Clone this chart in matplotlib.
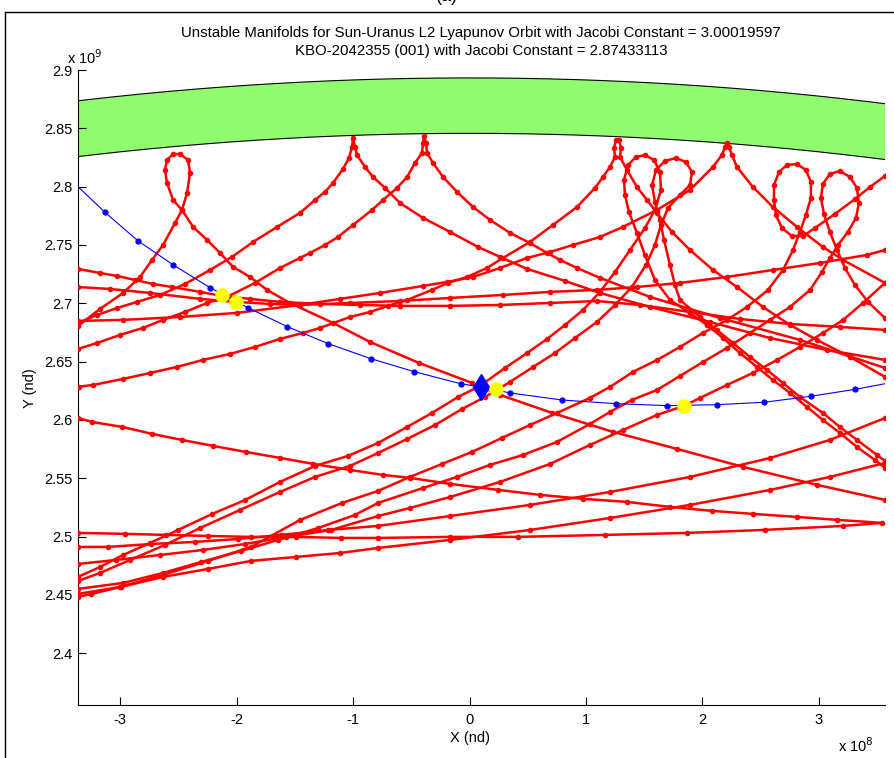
import matplotlib
matplotlib.use("Agg")
import matplotlib.pyplot as plt
import numpy as np
from matplotlib.lines import Line2D

plt.rcParams["font.family"] = ["Liberation Sans", "DejaVu Sans"]

# x in units of 1e8, y in units of 1e9
x_limits = (-3.361, 3.567)
y_limits = (2.3557, 2.9)

# ring band (inner / outer radius, 1e9)
band_r_inner = 2.8457
band_r_outer = 2.8932

# KBO path (blue)
kbo_x = [-3.361, -3.129, -2.848, -2.543, -2.227, -1.904, -1.564, -1.212, -0.848,
         -0.474, -0.076, 0.096, 0.348, 0.797, 1.255, 1.698, 2.124, 2.528, 2.929,
         3.312, 3.567]
kbo_y = [2.8000, 2.7780, 2.7537, 2.7329, 2.7134, 2.6963, 2.6800, 2.6654, 2.6526,
         2.6414, 2.6311, 2.6283, 2.6232, 2.6171, 2.6140, 2.6123, 2.6131, 2.6152,
         2.6203, 2.6263, 2.6311]

start_x, start_y = 0.096, 2.6283
cross_x = [-2.127, -2.007, 0.225, 1.841]
cross_y = [2.7072, 2.7014, 2.6264, 2.6121]

# manifold trajectories (red)
t1_x = [-3.361, -3.172, -2.974, -2.828, -2.725, -2.631, -2.528, -2.468, -2.425,
        -2.399, -2.416, -2.485, -2.545, -2.597, -2.614, -2.597, -2.545, -2.468,
        -2.373, -2.253, -2.142, -2.030, -1.884, -1.738, -1.541, -1.172, -0.854,
        -0.433, 0.021, 0.262, 0.708, 1.232, 1.781, 2.348, 2.983, 3.567]
t1_y = [2.6806, 2.6952, 2.7089, 2.7226, 2.7372, 2.7500, 2.7689, 2.7800, 2.7946,
        2.8117, 2.8229, 2.8280, 2.8280, 2.8229, 2.8143, 2.8032, 2.7886, 2.7800,
        2.7655, 2.7543, 2.7432, 2.7312, 2.7226, 2.7115, 2.7003, 2.6832, 2.6669,
        2.6489, 2.6318, 2.6215, 2.6061, 2.5898, 2.5752, 2.5598, 2.5444, 2.5315]

t2_x = [-3.361, -3.197, -3.026, -2.854, -2.657, -2.442, -2.227, -2.039, -1.858,
        -1.652, -1.455, -1.326, -1.240, -1.172, -1.086, -1.034, -1.009, -1.000,
        -0.983, -0.966, -0.897, -0.828, -0.725, -0.597, -0.399, -0.167, 0.073,
        0.262, 0.494, 0.820, 1.120, 1.549, 2.064, 2.579, 3.069, 3.567]
t2_y = [2.6832, 2.6900, 2.6960, 2.7012, 2.7072, 2.7166, 2.7286, 2.7398, 2.7526,
        2.7655, 2.7775, 2.7886, 2.7955, 2.8032, 2.8152, 2.8246, 2.8340, 2.8417,
        2.8340, 2.8272, 2.8169, 2.8083, 2.7989, 2.7860, 2.7732, 2.7612, 2.7483,
        2.7398, 2.7295, 2.7192, 2.7089, 2.6969, 2.6840, 2.6703, 2.6600, 2.6515]

t3_x = [-3.361, -3.197, -3.000, -2.803, -2.631, -2.442, -2.253, -2.082, -1.841,
        -1.627, -1.455, -1.369, -1.240, -1.129, -1.000, -0.837, -0.742, -0.622,
        -0.536, -0.468, -0.408, -0.399, -0.391, -0.373, -0.365, -0.313, -0.227,
        -0.107, 0.030, 0.176, 0.348, 0.519, 0.665, 0.777, 0.923, 1.120, 1.549,
        2.150, 2.837, 3.567]
t3_y = [2.6609, 2.6660, 2.6729, 2.6789, 2.6858, 2.6926, 2.7003, 2.7055, 2.7175,
        2.7303, 2.7389, 2.7432, 2.7500, 2.7569, 2.7672, 2.7800, 2.7886, 2.7989,
        2.8083, 2.8203, 2.8289, 2.8374, 2.8434, 2.8374, 2.8289, 2.8203, 2.8083,
        2.7955, 2.7826, 2.7715, 2.7603, 2.7517, 2.7432, 2.7372, 2.7303, 2.7218,
        2.7055, 2.6875, 2.6686, 2.6446]

t4_x = [-3.352, -3.232, -2.974, -2.742, -2.511, -2.288, -2.056, -1.841, -1.627,
        -1.429, -1.283, -1.026, -0.854, -0.700, -0.536, -0.322, -0.185, -0.021,
        0.150, 0.288, 0.519, 0.717, 0.923, 1.077, 1.146, 1.206, 1.249, 1.241,
        1.258, 1.283, 1.301, 1.292, 1.352, 1.438, 1.524, 1.609, 1.738, 1.893,
        2.090, 2.296, 2.519, 2.751, 2.983, 3.266, 3.567]
t4_y = [2.6286, 2.6300, 2.6352, 2.6403, 2.6455, 2.6515, 2.6566, 2.6626, 2.6695,
        2.6746, 2.6789, 2.6883, 2.6926, 2.6978, 2.7029, 2.7115, 2.7175, 2.7226,
        2.7303, 2.7389, 2.7526, 2.7672, 2.7826, 2.7989, 2.8083, 2.8169, 2.8255,
        2.8332, 2.8400, 2.8400, 2.8332, 2.8255, 2.8143, 2.7997, 2.7886, 2.7775,
        2.7612, 2.7457, 2.7286, 2.7140, 2.6969, 2.6815, 2.6686, 2.6541, 2.6369]

t5_x = [-3.361, -2.957, -2.605, -2.245, -1.876, -1.489, -1.103, -0.785, -0.167,
        0.416, 1.163, 1.867, 2.536, 3.206, 3.541, 3.155, 2.811, 2.433, 2.082,
        1.721, 1.352, 0.974, 0.605, 0.245, -0.167, -0.511, -0.742, -1.026,
        -1.343, -1.627, -1.918, -2.202, -2.468, -2.725, -2.983, -3.240, -3.361]
t5_y = [2.5032, 2.5024, 2.5015, 2.5006, 2.4998, 2.4998, 2.4989, 2.4989, 2.4998,
        2.4998, 2.5015, 2.5032, 2.5058, 2.5092, 2.5118, 2.5144, 2.5169, 2.5195,
        2.5221, 2.5255, 2.5298, 2.5324, 2.5358, 2.5401, 2.5452, 2.5504, 2.5529,
        2.5572, 2.5624, 2.5675, 2.5726, 2.5778, 2.5829, 2.5881, 2.5941, 2.5983,
        2.6018]

t6_x = [-3.361, -2.974, -2.485, -1.996, -1.455, -1.112, -0.768, -0.399, -0.193,
        0.030, 0.262, 0.494, 0.691, 0.888, 1.120, 1.318, 1.609, 1.893, 2.090,
        2.167, 2.193, 2.210, 2.227, 2.253, 2.296, 2.433, 2.605, 2.811, 3.034,
        3.206, 3.567]
t6_y = [2.6849, 2.6858, 2.6883, 2.6918, 2.6986, 2.7038, 2.7089, 2.7149, 2.7183,
        2.7226, 2.7303, 2.7389, 2.7440, 2.7500, 2.7569, 2.7655, 2.7800, 2.7972,
        2.8169, 2.8272, 2.8340, 2.8374, 2.8340, 2.8272, 2.8169, 2.7997, 2.7826,
        2.7655, 2.7483, 2.7372, 2.7175]

t7_x = [-3.361, -3.172, -3.026, -2.871, -2.717, -2.554, -2.313, -2.124, -1.884,
        -1.627, -1.283, -0.940, -0.597, -0.167, 0.262, 0.691, 1.094, 1.464,
        1.893, 2.322, 2.751, 3.180, 3.567]
t7_y = [2.7295, 2.7260, 2.7235, 2.7200, 2.7166, 2.7140, 2.7098, 2.7063, 2.7038,
        2.7012, 2.6995, 2.6986, 2.6978, 2.6978, 2.6986, 2.7003, 2.7020, 2.6986,
        2.6926, 2.6866, 2.6823, 2.6798, 2.6772]

t8_x = [-3.361, -3.086, -2.742, -2.313, -2.004, -1.712, -1.455, -1.026, -0.597,
        -0.167, 0.288, 0.691, 1.094, 1.438, 1.807, 2.210, 2.605, 3.009, 3.412,
        3.567]
t8_y = [2.7140, 2.7123, 2.7089, 2.7038, 2.7012, 2.6995, 2.6986, 2.7003, 2.7020,
        2.7046, 2.7072, 2.7098, 2.7115, 2.7140, 2.7175, 2.7226, 2.7286, 2.7346,
        2.7415, 2.7457]

t9_x = [-3.361, -3.172, -2.974, -2.742, -2.502, -2.210, -1.927, -1.627, -1.326,
        -1.043, -0.785, -0.536, -0.322, -0.099, 0.090, 0.305, 0.494, 0.665,
        0.820, 0.974, 1.120, 1.249, 1.378, 1.506, 1.592, 1.644, 1.635, 1.584,
        1.506, 1.429, 1.361, 1.326, 1.335, 1.369, 1.438, 1.506, 1.592, 1.721,
        1.893, 2.039, 2.176, 2.322, 2.468, 2.605, 2.751, 2.897, 3.034, 3.180,
        3.326, 3.481, 3.567]
t9_y = [2.4655, 2.4740, 2.4843, 2.4946, 2.5057, 2.5194, 2.5314, 2.5469, 2.5606,
        2.5692, 2.5803, 2.5940, 2.6060, 2.6197, 2.6292, 2.6446, 2.6574, 2.6694,
        2.6814, 2.6943, 2.7097, 2.7269, 2.7457, 2.7646, 2.7800, 2.7972, 2.8126,
        2.8229, 2.8271, 2.8254, 2.8186, 2.8057, 2.7929, 2.7783, 2.7603, 2.7414,
        2.7200, 2.7029, 2.6917, 2.6814, 2.6703, 2.6574, 2.6454, 2.6343, 2.6232,
        2.6112, 2.6000, 2.5889, 2.5769, 2.5657, 2.5589]

t10_x = [-3.361, -3.172, -2.914, -2.614, -2.313, -1.970, -1.627, -1.326, -1.026,
         -0.785, -0.536, -0.296, -0.064, 0.133, 0.348, 0.545, 0.734, 0.906,
         1.094, 1.249, 1.395, 1.515, 1.592, 1.644, 1.704, 1.807, 1.893, 1.910,
         1.858, 1.773, 1.678, 1.601, 1.567, 1.592, 1.635, 1.670, 1.721, 1.764,
         1.807, 1.979, 2.124, 2.262, 2.408, 2.554, 2.691, 2.837, 3.034, 3.180,
         3.326, 3.498, 3.567]
t10_y = [2.4620, 2.4689, 2.4800, 2.4929, 2.5074, 2.5229, 2.5383, 2.5512, 2.5606,
         2.5717, 2.5837, 2.5957, 2.6094, 2.6197, 2.6326, 2.6454, 2.6574, 2.6703,
         2.6840, 2.6986, 2.7140, 2.7329, 2.7500, 2.7672, 2.7817, 2.7929, 2.8014,
         2.8126, 2.8211, 2.8246, 2.8220, 2.8143, 2.8014, 2.7869, 2.7714, 2.7543,
         2.7329, 2.7157, 2.7029, 2.6883, 2.6772, 2.6660, 2.6540, 2.6429, 2.6317,
         2.6197, 2.6060, 2.5940, 2.5829, 2.5700, 2.5649]

t11_x = [-3.361, -3.000, -2.631, -2.245, -1.876, -1.455, -1.094, -0.785, -0.511,
         -0.236, 0.021, 0.279, 0.519, 0.751, 1.034, 1.206, 1.403, 1.609, 1.807,
         2.004, 2.210, 2.382, 2.562, 2.691, 2.777, 2.837, 2.888, 2.931, 2.931,
         2.888, 2.811, 2.725, 2.657, 2.614, 2.614, 2.631, 2.682, 2.768, 2.863,
         2.966, 3.137, 3.309, 3.438, 3.567]
t11_y = [2.4509, 2.4569, 2.4672, 2.4792, 2.4912, 2.5143, 2.5289, 2.5392, 2.5512,
         2.5623, 2.5726, 2.5846, 2.5957, 2.6060, 2.6189, 2.6283, 2.6412, 2.6514,
         2.6626, 2.6746, 2.6857, 2.6969, 2.7114, 2.7286, 2.7457, 2.7612, 2.7757,
         2.7903, 2.8040, 2.8143, 2.8194, 2.8186, 2.8126, 2.8014, 2.7886, 2.7757,
         2.7646, 2.7577, 2.7577, 2.7646, 2.7766, 2.7894, 2.7997, 2.8092]

t12_x = [-3.361, -2.974, -2.631, -2.305, -1.961, -1.644, -1.300, -0.983, -0.785,
         -0.399, -0.107, 0.176, 0.459, 0.751, 1.034, 1.206, 1.395, 1.609, 1.807,
         2.004, 2.210, 2.408, 2.579, 2.751, 2.923, 3.026, 3.094, 3.163, 3.249,
         3.318, 3.343, 3.326, 3.266, 3.180, 3.094, 3.034, 3.017, 3.043, 3.094,
         3.155, 3.223, 3.309, 3.421, 3.567]
t12_y = [2.4552, 2.4603, 2.4689, 2.4783, 2.4877, 2.4972, 2.5074, 2.5186, 2.5289,
         2.5417, 2.5512, 2.5615, 2.5700, 2.5812, 2.5966, 2.6069, 2.6172, 2.6257,
         2.6377, 2.6497, 2.6617, 2.6746, 2.6857, 2.6969, 2.7114, 2.7269, 2.7389,
         2.7500, 2.7612, 2.7732, 2.7860, 2.7989, 2.8083, 2.8134, 2.8109, 2.8023,
         2.7903, 2.7766, 2.7612, 2.7457, 2.7303, 2.7157, 2.7012, 2.6874]

t13_x = [-3.361, -3.034, -2.657, -2.288, -1.927, -1.575, -1.189, -0.785, -0.511,
         -0.167, 0.262, 0.691, 1.034, 1.318, 1.609, 1.841, 1.979, 2.210, 2.433,
         2.639, 2.837, 3.034, 3.206, 3.378, 3.567]
t13_y = [2.4766, 2.4800, 2.4843, 2.4886, 2.4937, 2.4997, 2.5057, 2.5177, 2.5246,
         2.5340, 2.5469, 2.5623, 2.5786, 2.5914, 2.6043, 2.6121, 2.6189, 2.6300,
         2.6403, 2.6514, 2.6626, 2.6746, 2.6857, 2.7003, 2.7175]

t14_x = [-3.361, -3.103, -2.734, -2.356, -1.987, -1.618, -1.215, -0.785, -0.167,
         0.519, 1.206, 1.893, 2.579, 3.094, 3.567]
t14_y = [2.4912, 2.4912, 2.4937, 2.4955, 2.4980, 2.5015, 2.5057, 2.5092, 2.5177,
         2.5272, 2.5383, 2.5512, 2.5674, 2.5829, 2.6017]

t15_x = [-3.361, -3.249, -2.991, -2.631, -2.245, -1.876, -1.489, -1.112, -0.785,
         -0.167, 0.519, 1.206, 1.893, 2.579, 3.094, 3.567]
t15_y = [2.4483, 2.4509, 2.4569, 2.4655, 2.4723, 2.4792, 2.4826, 2.4860, 2.4903,
         2.4972, 2.5057, 2.5160, 2.5272, 2.5400, 2.5512, 2.5632]

manifolds = [(t1_x, t1_y), (t2_x, t2_y), (t3_x, t3_y), (t4_x, t4_y),
             (t5_x, t5_y), (t6_x, t6_y), (t7_x, t7_y), (t8_x, t8_y),
             (t9_x, t9_y), (t10_x, t10_y), (t11_x, t11_y), (t12_x, t12_y),
             (t13_x, t13_y), (t14_x, t14_y), (t15_x, t15_y)]

title_lines = [
    "Unstable Manifolds for Sun-Uranus L2 Lyapunov Orbit with Jacobi Constant = 3.00019597",
    "KBO-2042355 (001) with Jacobi Constant = 2.87433113",
]

W, H = 894, 758
fig = plt.figure(figsize=(W / 100, H / 100), dpi=100)
ax = fig.add_axes([78 / W, 1 - 705 / H, (885 - 78) / W, (705 - 70) / H])

# ring band between two circles
theta = np.linspace(np.pi / 2 - 0.2, np.pi / 2 + 0.2, 400)
outer_x, outer_y = band_r_outer * np.cos(theta) * 10, band_r_outer * np.sin(theta)
inner_x, inner_y = band_r_inner * np.cos(theta) * 10, band_r_inner * np.sin(theta)
ax.fill(np.r_[outer_x, inner_x[::-1]], np.r_[outer_y, inner_y[::-1]],
        color="#90fb6e", lw=0, zorder=1)
ax.plot(outer_x, outer_y, color="black", lw=0.8, zorder=2)
ax.plot(inner_x, inner_y, color="black", lw=0.8, zorder=2)

for mx, my in manifolds:
    ax.plot(mx, my, color="red", lw=1.8, marker=".", ms=6, zorder=3)

ax.plot(kbo_x, kbo_y, color="blue", lw=0.8, marker=".", ms=7,
        markevery=list(range(1, len(kbo_x) - 1)), zorder=4)
ax.plot(start_x, start_y, marker="d", ms=13, color="blue", mec="blue", zorder=5)
ax.plot(cross_x, cross_y, ls="none", marker="o", ms=9.5, color="yellow",
        mec="yellow", zorder=6)

ax.set_xlim(*x_limits)
ax.set_ylim(*y_limits)
ax.set_xticks(range(-3, 4))
ax.set_xticklabels([str(v) for v in range(-3, 4)])
yt = np.round(np.arange(2.4, 2.901, 0.05), 2)
ax.set_yticks(yt)
ax.set_yticklabels([f"{v:g}" for v in yt])
ax.tick_params(direction="in", length=6, width=0.8, labelsize=10.5, pad=4)
ax.tick_params(axis="x", pad=6)
for side in ("top", "right"):
    ax.spines[side].set_visible(False)
for side in ("left", "bottom"):
    ax.spines[side].set_linewidth(0.8)

fig.text(30 / W, 1 - 388 / H, "Y (nd)", rotation=90, ha="center", va="center",
         fontsize=10.5)
fig.text(470 / W, 1 - 738 / H, "X (nd)", ha="center", va="center", fontsize=10.5)
fig.text(67 / W, 1 - 64 / H, r"x 10$^{9}$", ha="left", va="baseline", fontsize=10.5)
fig.text(838 / W, 1 - 752 / H, r"x 10$^{8}$", ha="left", va="baseline", fontsize=10.5)
fig.text(481 / W, 1 - 33 / H, title_lines[0], ha="center", va="center", fontsize=10.8)
fig.text(481 / W, 1 - 51 / H, title_lines[1], ha="center", va="center", fontsize=10.8)
fig.text(447 / W, 1 - 5 / H, "(a)", ha="center", va="bottom", fontsize=13)

# outer frame
fig.add_artist(Line2D([4.5 / W, 4.5 / W], [0, 1 - 11.7 / H], color="black", lw=1,
                      transform=fig.transFigure))
fig.add_artist(Line2D([4.5 / W, 1], [1 - 11.7 / H, 1 - 11.7 / H], color="black", lw=1,
                      transform=fig.transFigure))

fig.savefig("out.png", dpi=100)
